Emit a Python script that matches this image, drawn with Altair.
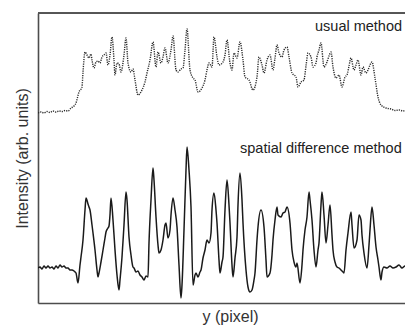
import altair as alt
import pandas as pd

# Positions along the profile (pixel index) and intensities (arb. units)
usual_pos = [38, 41, 44, 47, 50, 53, 56, 59, 62, 65, 68, 71, 74, 76, 79, 82, 83, 85, 87, 89, 91, 92, 94, 96, 98, 100,
             102, 104, 106, 108, 110, 112, 114, 115, 117, 119, 121, 124, 126, 128, 131, 133, 135, 138, 142, 145, 147,
             150, 153, 156, 158, 161, 163, 165, 168, 171, 173, 176, 178, 181, 183, 185, 187, 190, 193, 195, 198, 202,
             205, 207, 209, 212, 214, 217, 219, 223, 225, 227, 230, 232, 234, 237, 240, 243, 245, 249, 253, 257, 259,
             262, 264, 267, 270, 273, 275, 277, 279, 282, 284, 287, 289, 292, 296, 298, 301, 304, 306, 308, 311, 313,
             316, 317, 319, 321, 324, 327, 329, 331, 333, 336, 339, 342, 345, 347, 349, 351, 354, 356, 358, 361, 363,
             366, 368, 370, 372, 375, 378, 381, 386, 391, 395, 399, 403, 407, 411, 415, 419, 422]
usual_pix = [113, 112, 113, 111.5, 112.5, 111, 112, 111, 111.5, 110.5, 111, 108, 106, 103, 92, 87, 72, 52, 55, 58, 54,
             60, 68, 62, 61, 63, 57, 55, 53, 65, 55, 37, 60, 75, 63, 64, 72, 55, 38, 63, 72, 69, 80, 95, 90, 82, 73,
             60, 42, 67, 52, 63, 57, 48, 63, 50, 36, 70, 72, 69, 68, 50, 29, 70, 78, 80, 92, 88, 80, 70, 63, 67, 37,
             57, 65, 62, 55, 40, 63, 70, 53, 58, 42, 60, 77, 80, 90, 77, 57, 65, 73, 60, 55, 70, 58, 45, 53, 57, 50,
             47, 57, 73, 77, 87, 82, 80, 66, 53, 57, 67, 63, 57, 50, 43, 67, 62, 56, 52, 67, 78, 75, 87, 77, 75, 66,
             58, 70, 65, 60, 75, 67, 73, 70, 65, 62, 78, 97, 105, 108, 109, 110.5, 110, 111, 109.5, 110, 110.5, 110, 110]

spatial_pos = [38, 40, 42, 44, 46, 48, 50, 52, 54, 56, 58, 60, 62, 64, 66, 68, 70, 72, 74, 76, 78, 80, 81, 83, 85, 86,
               88, 89, 90, 92, 93, 95, 97, 98, 99, 101, 103, 105, 106, 108, 109, 110, 111, 113, 115, 117, 119, 120,
               122, 124, 126, 127, 129, 131, 133, 134, 136, 138, 140, 142, 144, 146, 148, 149, 151, 153, 154, 156,
               158, 159, 161, 163, 165, 166, 168, 170, 171, 173, 175, 177, 179, 181, 182, 184, 186, 187, 189, 191,
               193, 195, 196, 198, 200, 201, 203, 205, 207, 209, 211, 212, 214, 216, 217, 219, 220, 222, 223, 225,
               227, 229, 230, 232, 233, 235, 237, 238, 240, 242, 243, 246, 248, 250, 252, 254, 255, 257, 258, 261,
               264, 266, 267, 270, 272, 273, 275, 277, 278, 281, 283, 285, 287, 290, 292, 294, 296, 297, 300, 302,
               303, 305, 307, 309, 310, 312, 314, 316, 318, 319, 321, 322, 324, 326, 328, 330, 332, 333, 335, 337,
               339, 341, 343, 344, 346, 348, 351, 352, 354, 357, 359, 361, 362, 364, 367, 369, 370, 372, 374, 376,
               378, 379, 381, 382, 384, 387, 390, 393, 396, 399, 402, 405, 408, 411, 414, 418, 422]
spatial_pix = [268, 267, 269, 266, 268, 266, 268, 267, 269, 266, 268, 265, 267, 266, 268, 268, 270, 270, 271, 273,
               283, 265, 257, 240, 210, 198, 204, 207, 210, 225, 233, 250, 270, 277, 273, 262, 250, 238, 232, 228,
               226, 215, 198, 220, 250, 275, 290, 280, 257, 225, 192, 200, 237, 255, 267, 268, 272, 271, 275, 277,
               280, 276, 277, 243, 200, 168, 180, 217, 245, 253, 250, 240, 225, 223, 238, 230, 215, 198, 210, 227,
               265, 298, 285, 230, 170, 147, 170, 207, 285, 275, 273, 277, 272, 270, 258, 250, 240, 243, 233, 210,
               193, 210, 223, 260, 273, 262, 257, 210, 180, 205, 223, 265, 277, 258, 237, 205, 173, 200, 223, 270,
               287, 292, 290, 280, 273, 240, 227, 210, 227, 260, 277, 273, 255, 240, 220, 207, 215, 217, 213, 212,
               207, 223, 250, 262, 267, 263, 283, 265, 250, 230, 217, 192, 200, 220, 250, 267, 250, 243, 205, 192,
               215, 243, 225, 205, 235, 250, 262, 267, 268, 270, 272, 273, 250, 233, 212, 225, 248, 240, 215, 220,
               235, 253, 268, 245, 230, 207, 225, 247, 260, 267, 280, 272, 267, 268, 266, 268, 267, 265, 268, 266,
               267, 266, 268, 266, 267]

series_names = ["usual method", "spatial difference method"]
label_pos = [315, 240]
label_pix = [31, 152.5]

BASE = 303  # intensity zero level in the picture
rows = []
for p, v in zip(usual_pos, usual_pix):
    rows.append({"pos": p, "val": BASE - v, "series": series_names[0]})
for p, v in zip(spatial_pos, spatial_pix):
    rows.append({"pos": p, "val": BASE - v, "series": series_names[1]})
df = pd.DataFrame(rows)
labels = pd.DataFrame({"pos": label_pos, "val": [BASE - v for v in label_pix], "text": series_names})

W, H = 367, 290
FONT = "Liberation Sans"
FRAME = "#4d4d4d"
xs = alt.Scale(domain=[38, 38 + W], nice=False, zero=False)
ys = alt.Scale(domain=[0, H], nice=False, zero=False)
xax = alt.Axis(title="y (pixel)", domain=True, domainColor=FRAME, domainWidth=1.6, ticks=False, labels=False,
               grid=False, titleFont=FONT, titleFontSize=16, titleFontWeight="normal", titleColor="#333",
               titlePadding=5, titleX=192)
yax = alt.Axis(title="Intensity (arb. units)", domain=True, domainColor=FRAME, domainWidth=1.6, ticks=False,
               labels=False, grid=False, titleFont=FONT, titleFontSize=16, titleFontWeight="normal",
               titleColor="#333", titlePadding=8)

usual = alt.Chart(df).transform_filter(alt.datum.series == series_names[0]).mark_line(
    color="#2b2b2b", strokeWidth=1.4, strokeDash=[1.2, 1.1], interpolate="monotone", clip=True
).encode(x=alt.X("pos:Q", scale=xs, axis=xax), y=alt.Y("val:Q", scale=ys, axis=yax), order="pos:Q")

spatial = alt.Chart(df).transform_filter(alt.datum.series == series_names[1]).mark_line(
    color="#1a1a1a", strokeWidth=1.5, interpolate="monotone", clip=True
).encode(x=alt.X("pos:Q", scale=xs), y=alt.Y("val:Q", scale=ys), order="pos:Q")

text = alt.Chart(labels).mark_text(
    align="left", baseline="alphabetic", font=FONT, fontSize=14.5, color="#222"
).encode(x=alt.X("pos:Q", scale=xs), y=alt.Y("val:Q", scale=ys), text="text:N")

top_border = alt.Chart(labels).mark_rule(color=FRAME, strokeWidth=1.6).encode(
    x=alt.value(0), x2=alt.value(W + 2), y=alt.value(0)
)

chart = alt.layer(usual, spatial, text, top_border).properties(
    width=W, height=H,
    autosize=alt.AutoSizeParams(type="none"),
    padding={"left": 30, "top": 5, "right": 0, "bottom": 23},
).configure_view(stroke=None, strokeWidth=0).configure(background="white")

chart.save("out.html", embed_options={"renderer": "svg", "actions": False})
